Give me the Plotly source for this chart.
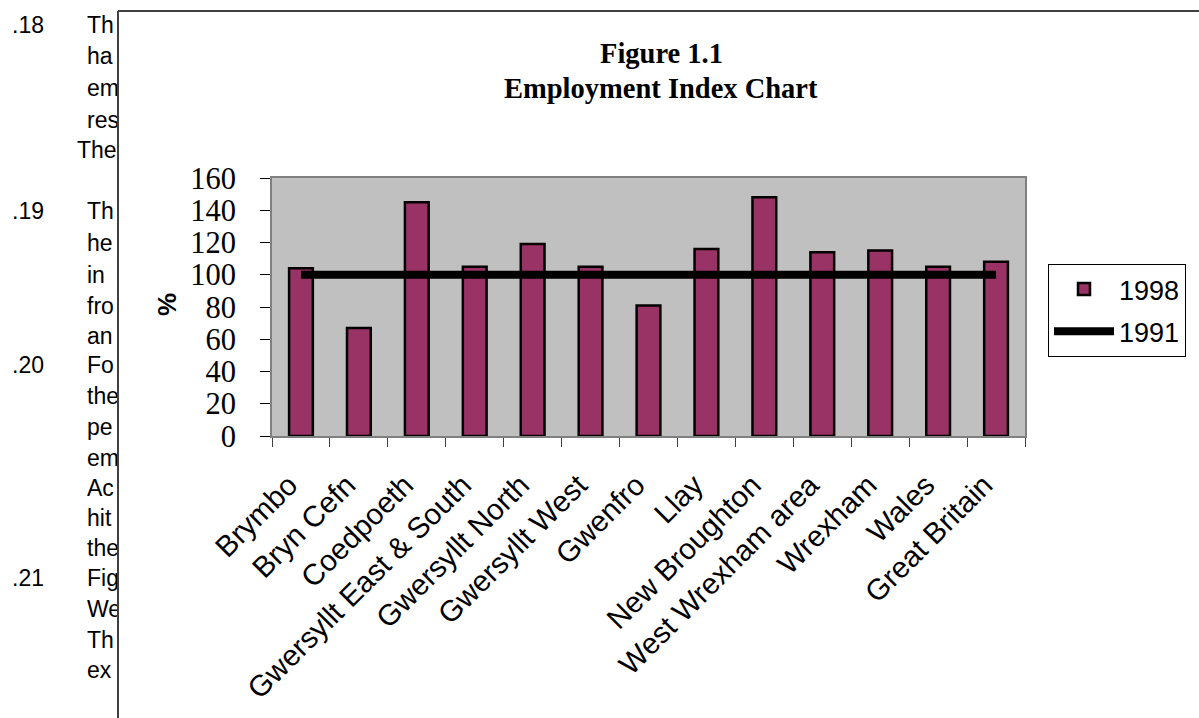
import plotly.graph_objects as go

W, H = 1199, 718

categories = ["Brymbo", "Bryn Cefn", "Coedpoeth", "Gwersyllt East & South",
              "Gwersyllt North", "Gwersyllt West", "Gwenfro", "Llay",
              "New Broughton", "West Wrexham area", "Wrexham", "Wales",
              "Great Britain"]
index_1998 = [104, 67, 145, 105, 119, 105, 81, 116, 148, 114, 115, 105, 108]
index_1991 = [100, 100, 100, 100, 100, 100, 100, 100, 100, 100, 100, 100, 100]
y_ticks = [0, 20, 40, 60, 80, 100, 120, 140, 160]

# Clipped body text of the document behind the chart (left margin)
side_text = [".18", "Th", "ha", "em", "res", "The",
             ".19", "Th", "he", "in", "fro", "an",
             ".20", "Fo", "the", "pe", "em", "Ac", "hit", "the",
             ".21", "Fig", "We", "Th", "ex"]
side_x = [12, 87, 87, 87, 87, 77,
          12, 87, 87, 87, 87, 87,
          12, 87, 87, 87, 87, 87, 87, 87,
          12, 87, 87, 87, 87]
side_y = [27, 27, 58, 90, 122, 152,
          213, 213, 245, 277, 308, 338,
          367, 367, 398, 429, 460, 490, 520, 550,
          580, 580, 611, 642, 672]

SANS = "Liberation Sans, Arial, sans-serif"
SERIF = "Liberation Serif, Times New Roman, serif"

px = lambda v: v / W
py = lambda v: 1 - v / H

fig = go.Figure()

fig.add_trace(go.Bar(
    x=categories, y=index_1998, name="1998", legendgroup="a",
    marker=dict(color="#993366", line=dict(color="black", width=2.5)),
    xaxis="x", yaxis="y",
))
fig.add_trace(go.Scatter(
    x=categories, y=index_1991, name="1991", mode="lines", legendgroup="b",
    line=dict(color="black", width=8),
    xaxis="x", yaxis="y",
))
fig.add_trace(go.Scatter(
    x=side_x, y=side_y, text=side_text, mode="text",
    textposition="middle right", showlegend=False, cliponaxis=True,
    textfont=dict(family=SANS, size=23, color="black"),
    xaxis="x2", yaxis="y2", hoverinfo="skip",
))

fig.update_layout(
    width=W, height=H,
    template="none",
    margin=dict(l=0, r=0, t=0, b=0, pad=0, autoexpand=False),
    paper_bgcolor="white",
    plot_bgcolor="white",
    bargap=0.59,
    showlegend=True,
    legend=dict(
        x=px(1048), y=py(264), xanchor="left", yanchor="top",
        bordercolor="black", borderwidth=1, bgcolor="white",
        font=dict(family=SANS, size=27, color="black"),
        itemwidth=60, tracegroupgap=4,
    ),
    xaxis=dict(
        domain=[px(272), px(1025)],
        type="category",
        automargin=False,
        tickson="boundaries",
        ticks="outside", ticklen=9, tickcolor="#404040", tickwidth=1,
        tickangle=-45,
        ticklabelstandoff=18,
        ticklabelshift=-12,
        tickfont=dict(family=SANS, size=29.5, color="black"),
        showline=True, linecolor="#808080", linewidth=2, mirror=True,
        showgrid=False, zeroline=False,
    ),
    yaxis=dict(
        domain=[py(436), py(178)],
        range=[0, 160],
        automargin=False,
        tickvals=y_ticks,
        ticks="outside", ticklen=10, tickcolor="black", tickwidth=1,
        ticklabelstandoff=18,
        tickfont=dict(family=SERIF, size=30.5, color="black"),
        showline=True, linecolor="#808080", linewidth=2, mirror=True,
        showgrid=False, zeroline=False,
    ),
    xaxis2=dict(domain=[0, px(117)], range=[0, 117], visible=False,
                anchor="y2", fixedrange=True, automargin=False),
    yaxis2=dict(domain=[0, 1], range=[H, 0], visible=False,
                anchor="x2", fixedrange=True, automargin=False),
    annotations=[
        dict(text="<b>Figure 1.1</b>", x=px(661), y=py(53), xref="paper", yref="paper",
             xanchor="center", yanchor="middle", showarrow=False,
             font=dict(family=SERIF, size=28.5, color="black")),
        dict(text="<b>Employment Index Chart</b>", x=px(661), y=py(88), xref="paper", yref="paper",
             xanchor="center", yanchor="middle", showarrow=False,
             font=dict(family=SERIF, size=28.5, color="black")),
        dict(text="<b>%</b>", x=px(167), y=py(305), xref="paper", yref="paper",
             xanchor="center", yanchor="middle", showarrow=False, textangle=-90,
             font=dict(family=SANS, size=26, color="black")),
    ],
    shapes=[
        dict(type="rect", xref="x domain", yref="y domain",
             x0=0, x1=1, y0=0, y1=1, layer="below",
             fillcolor="#C0C0C0", line=dict(width=0)),
        dict(type="line", xref="paper", yref="paper",
             x0=px(118), x1=1, y0=py(11), y1=py(11),
             line=dict(color="#404040", width=2)),
        dict(type="line", xref="paper", yref="paper",
             x0=px(118), x1=px(118), y0=py(11), y1=0,
             line=dict(color="#404040", width=2)),
    ],
)

fig.write_html("out.html")
